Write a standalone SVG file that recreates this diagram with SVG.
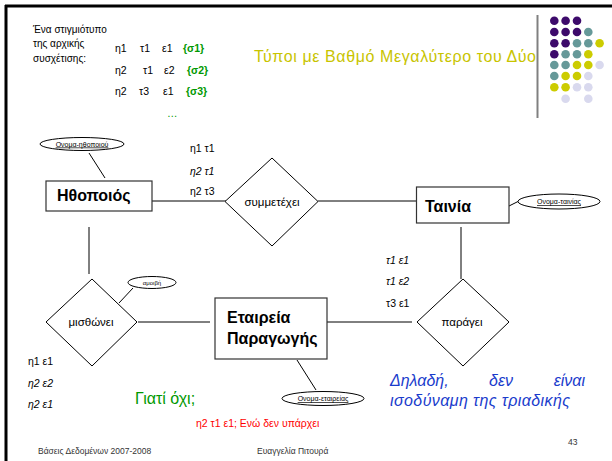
<svg xmlns="http://www.w3.org/2000/svg" width="612" height="461" viewBox="0 0 612 461">
  <style>
    text { font-family: "Liberation Sans", "DejaVu Sans", sans-serif; fill: #000; }
    .ent { fill: #fff; stroke: #333; stroke-width: 1.2; }
    .rel { fill: #fff; stroke: #000; stroke-width: 1; }
    .att { fill: #fff; stroke: #000; stroke-width: 1; }
    .edge { stroke: #000; stroke-width: 1; fill: none; }
    .ename { font-size: 16px; font-weight: bold; }
    .rname { font-size: 11.5px; }
    .aname { font-size: 7px; text-decoration: underline; }
    .tup { font-size: 10.5px; }
    .it { font-style: italic; }
    .grn { fill: #009900; }
    .foot { font-size: 8.5px; fill: #333; }
    .pu { fill: #3d0a6b; } .te { fill: #669999; } .ye { fill: #cccc00; } .la { fill: #d9d9ee; }
  </style>

  <!-- slide frame -->
  <rect x="0" y="0" width="612" height="461" fill="#fff"/>
  <line x1="5" y1="6" x2="612" y2="6" stroke="#000" stroke-width="3"/>
  <line x1="6" y1="5" x2="6" y2="461" stroke="#000" stroke-width="3"/>

  <!-- title and decoration -->
  <text x="254" y="62" font-size="16" style="fill:#c8c400" textLength="282">Τύποι με Βαθμό Μεγαλύτερο του Δύο</text>
  <line x1="537.5" y1="15" x2="537.5" y2="118" stroke="#808080" stroke-width="2"/>
  <g id="dots">
    <circle class="pu" cx="554.3" cy="20.7" r="4.3"/><circle class="pu" cx="565.6" cy="20.7" r="4.3"/><circle class="pu" cx="577" cy="20.7" r="4.3"/>
    <circle class="pu" cx="554.3" cy="32" r="4.3"/><circle class="pu" cx="565.6" cy="32" r="4.3"/><circle class="pu" cx="577" cy="32" r="4.3"/><circle class="te" cx="588.3" cy="32" r="4.3"/>
    <circle class="pu" cx="554.3" cy="43.2" r="4.3"/><circle class="pu" cx="565.6" cy="43.2" r="4.3"/><circle class="te" cx="577" cy="43.2" r="4.3"/><circle class="te" cx="588.3" cy="43.2" r="4.3"/><circle class="ye" cx="599.6" cy="43.2" r="4.3"/>
    <circle class="pu" cx="554.3" cy="54.2" r="4.3"/><circle class="te" cx="565.6" cy="54.2" r="4.3"/><circle class="te" cx="577" cy="54.2" r="4.3"/><circle class="ye" cx="588.3" cy="54.2" r="4.3"/>
    <circle class="te" cx="554.3" cy="65" r="4.3"/><circle class="te" cx="565.6" cy="65" r="4.3"/><circle class="ye" cx="577" cy="65" r="4.3"/><circle class="ye" cx="588.3" cy="65" r="4.3"/><circle class="la" cx="599.6" cy="65" r="4.3"/>
    <circle class="te" cx="554.3" cy="76" r="4.3"/><circle class="ye" cx="565.6" cy="76" r="4.3"/><circle class="ye" cx="577" cy="76" r="4.3"/><circle class="la" cx="588.3" cy="76" r="4.3"/>
    <circle class="ye" cx="554.3" cy="87.3" r="4.3"/><circle class="ye" cx="565.6" cy="87.3" r="4.3"/><circle class="la" cx="577" cy="87.3" r="4.3"/><circle class="la" cx="588.3" cy="87.3" r="4.3"/>
    <circle class="la" cx="565.6" cy="98.7" r="4.3"/><circle class="la" cx="588.3" cy="98.7" r="4.3"/>
  </g>

  <!-- relationship instance -->
  <g id="instance">
    <text x="33" y="33" font-size="10">Ένα στιγμιότυπο</text>
    <text x="33" y="47" font-size="10">της αρχικής</text>
    <text x="33" y="62" font-size="10">συσχέτισης:</text>
    <text class="tup" x="115" y="52">η1</text><text class="tup" x="140" y="52">τ1</text><text class="tup" x="162" y="52">ε1</text>
    <text class="tup grn" x="183" y="52" font-weight="bold">{σ1}</text>
    <text class="tup" x="115" y="74">η2</text><text class="tup" x="143" y="74">τ1</text><text class="tup" x="164" y="74">ε2</text>
    <text class="tup grn" x="187" y="74" font-weight="bold">{σ2}</text>
    <text class="tup" x="115" y="95">η2</text><text class="tup" x="139" y="95">τ3</text><text class="tup" x="163" y="95">ε1</text>
    <text class="tup grn" x="186" y="95" font-weight="bold">{σ3}</text>
    <text class="tup grn" x="167" y="117">…</text>
  </g>

  <!-- connectors -->
  <g id="connectors">
    <line class="edge" x1="89" y1="153" x2="105" y2="178"/>
    <line class="edge" x1="152" y1="201" x2="226" y2="201"/>
    <line class="edge" x1="318" y1="201" x2="416" y2="201"/>
    <line class="edge" x1="509" y1="206" x2="518" y2="201.5"/>
    <line class="edge" x1="461" y1="227" x2="461" y2="279"/>
    <line class="edge" x1="89" y1="227" x2="89" y2="274"/>
    <line class="edge" x1="133" y1="288" x2="119" y2="303"/>
    <line class="edge" x1="138" y1="322" x2="210" y2="322"/>
    <line class="edge" x1="327" y1="322" x2="412" y2="322"/>
    <line class="edge" x1="297" y1="360" x2="316" y2="390"/>
  </g>

  <!-- entities -->
  <g id="actor">
    <rect class="ent" x="46" y="181" width="106" height="30"/>
    <text class="ename" x="57" y="201">Ηθοποιός</text>
  </g>
  <g id="movie">
    <rect class="ent" x="416.5" y="187" width="92.5" height="36"/>
    <text class="ename" x="425" y="212">Ταινία</text>
  </g>
  <g id="company">
    <rect class="ent" x="215" y="298" width="112" height="61"/>
    <text class="ename" x="227" y="323">Εταιρεία</text>
    <text class="ename" x="227" y="344">Παραγωγής</text>
  </g>

  <!-- relationships -->
  <g id="participates">
    <polygon class="rel" points="272,158 318,201.5 272,246 225,201.5"/>
    <text class="rname" x="272" y="205.5" text-anchor="middle">συμμετέχει</text>
  </g>
  <g id="produces">
    <polygon class="rel" points="463,279 509,322 463,366 417,322"/>
    <text class="rname" x="462" y="325.5" text-anchor="middle">παράγει</text>
  </g>
  <g id="hires">
    <polygon class="rel" points="92,279 137,322 92,366 46,322"/>
    <text class="rname" x="91" y="326" text-anchor="middle">μισθώνει</text>
  </g>

  <!-- attributes -->
  <g id="actor-name">
    <ellipse class="att" cx="82" cy="144" rx="42" ry="6.5"/>
    <text class="aname" x="82" y="146.5" text-anchor="middle">Ονομα-ηθοποιού</text>
  </g>
  <g id="movie-name">
    <ellipse class="att" cx="559" cy="201.5" rx="41" ry="7.5"/>
    <text class="aname" x="559" y="204" text-anchor="middle">Ονομα-ταινίας</text>
  </g>
  <g id="salary">
    <ellipse class="att" cx="152" cy="282.5" rx="24" ry="6"/>
    <text x="152" y="285" font-size="6" text-anchor="middle">αμοιβή</text>
  </g>
  <g id="company-name">
    <ellipse class="att" cx="323" cy="398.5" rx="41" ry="7"/>
    <text class="aname" x="323" y="401" text-anchor="middle">Ονομα-εταιρείας</text>
  </g>

  <!-- projected pairs -->
  <g id="pairs">
    <text class="tup" x="190" y="152">η1 τ1</text>
    <text class="tup it" x="190" y="175">η2 τ1</text>
    <text class="tup" x="190" y="195">η2 τ3</text>
    <text class="tup it" x="386" y="264">τ1 ε1</text>
    <text class="tup it" x="386" y="285">τ1 ε2</text>
    <text class="tup" x="386" y="307">τ3 ε1</text>
    <text class="tup" x="28" y="365">η1 ε1</text>
    <text class="tup it" x="28" y="387">η2 ε2</text>
    <text class="tup it" x="28" y="408">η2 ε1</text>
  </g>

  <!-- remarks -->
  <text x="135" y="404" font-size="16" style="fill:#009900">Γιατί όχι;</text>
  <text x="196" y="427" font-size="10.5" style="fill:#ff0000">η2 τ1 ε1; Ενώ δεν υπάρχει</text>
  <g font-size="16" font-style="italic">
    <text x="390" y="386" style="fill:#1a3ccc">Δηλαδή,</text>
    <text x="489" y="386" style="fill:#1a3ccc">δεν</text>
    <text x="585" y="386" text-anchor="end" style="fill:#1a3ccc">είναι</text>
    <text x="390" y="406" style="fill:#1a3ccc" textLength="180">ισοδύναμη της τριαδικής</text>
  </g>

  <!-- footer -->
  <text class="foot" x="38" y="454">Βάσεις Δεδομένων 2007-2008</text>
  <text class="foot" x="257" y="454">Ευαγγελία Πιτουρά</text>
  <text class="foot" x="568" y="445">43</text>
</svg>
